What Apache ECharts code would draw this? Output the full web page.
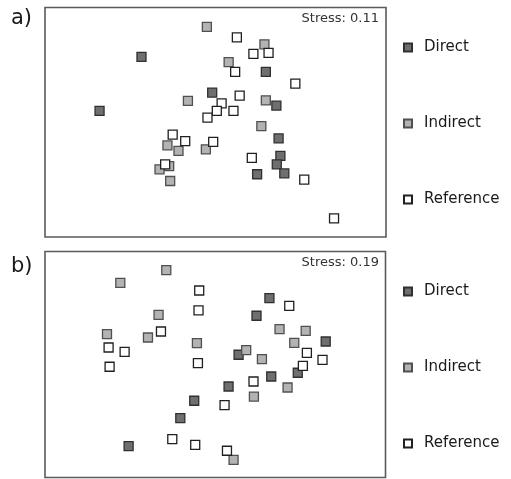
<!DOCTYPE html>
<html>
<head>
<meta charset="utf-8">
<script src="https://cdn.jsdelivr.net/npm/echarts@6/dist/echarts.min.js"></script>
<style>
html,body{margin:0;padding:0;background:#fff;}
#c{width:511px;height:479px;}
</style>
</head>
<body>
<div id="c"></div>
<script>
// NMDS ordination scores (axis 1, axis 2)
const groups = ['Direct', 'Indirect', 'Reference'];

// Panel a) Stress 0.11
const aDirect = [[-0.738,0.655],[-0.033,0.297],[-1.156,0.115],[0.502,0.505],[0.607,0.167],
  [0.629,-0.162],[0.647,-0.336],[0.611,-0.422],[0.686,-0.512],[0.415,-0.521]];
const aIndirect = [[-0.086,0.956],[0.488,0.781],[0.131,0.602],[-0.275,0.215],[0.502,0.220],
  [0.457,-0.039],[-0.479,-0.232],[-0.369,-0.287],[-0.096,-0.272],[-0.462,-0.439],
  [-0.558,-0.472],[-0.452,-0.589]];
const aReference = [[0.213,0.850],[0.378,0.685],[0.529,0.695],[0.196,0.505],[0.796,0.387],
  [0.241,0.267],[0.061,0.189],[0.013,0.115],[0.179,0.115],[-0.080,0.047],
  [-0.427,-0.124],[-0.302,-0.189],[-0.023,-0.196],[-0.502,-0.422],[0.362,-0.357],
  [0.885,-0.576],[1.182,-0.963]];

// Panel b) Stress 0.19
const bDirect = [[0.541,0.676],[0.412,0.496],[1.103,0.234],[0.233,0.099],[0.824,-0.084],
  [0.559,-0.122],[0.133,-0.224],[-0.210,-0.369],[-0.349,-0.545],[-0.865,-0.830]];
const bIndirect = [[-0.489,0.961],[-0.948,0.831],[-0.566,0.506],[-1.081,0.309],[-0.672,0.275],
  [-0.183,0.218],[0.642,0.360],[0.903,0.343],[0.789,0.221],[0.309,0.147],
  [0.466,0.055],[0.722,-0.234],[0.386,-0.326],[0.183,-0.970]];
const bReference = [[-0.160,0.753],[-0.167,0.550],[0.739,0.597],[-0.542,0.336],[-1.065,0.173],
  [-0.905,0.129],[-1.055,-0.023],[-0.173,0.014],[0.915,0.119],[1.071,0.048],
  [0.875,-0.013],[0.382,-0.173],[0.093,-0.413],[-0.429,-0.759],[-0.200,-0.817],
  [0.117,-0.878]];

const panelLabels = ['a)', 'b)'];
const stressLabels = ['Stress: 0.11', 'Stress: 0.19'];

const styles = {
  Direct:    {color:'#6f6f6f', borderColor:'#303030'},
  Indirect:  {color:'#b3b3b3', borderColor:'#505050'},
  Reference: {color:'#ffffff', borderColor:'#202020'}
};

const panelData = [[aDirect, aIndirect, aReference],[bDirect, bIndirect, bReference]];
const grids = [
  {left:45, top:7.5, width:341, height:229.5},
  {left:45, top:251.5, width:340.5, height:226}
];

const series = [];
panelData.forEach((sets, p) => {
  sets.forEach((d, g) => {
    const name = groups[g];
    series.push({
      type:'scatter', name:name, xAxisIndex:p, yAxisIndex:p,
      data:d, symbol:'rect', symbolSize:9,
      itemStyle:{color:styles[name].color, borderColor:styles[name].borderColor, borderWidth:1.3, opacity:1},
      emphasis:{disabled:true}, animation:false
    });
  });
});

const axisCommon = {show:false, splitLine:{show:false}};
const option = {
  backgroundColor:'#ffffff',
  animation:false,
  grid: grids.map(g => Object.assign({show:true, borderColor:'#5a5a5a', borderWidth:1.6, backgroundColor:'transparent', containLabel:false}, g)),
  xAxis: [0,1].map(i => Object.assign({type:'value', gridIndex:i, min:-1.7, max:1.7}, axisCommon)),
  yAxis: [0,1].map(i => Object.assign({type:'value', gridIndex:i, min:-1.15, max:1.15}, axisCommon)),
  legend: [35, 279].map(t => ({
    orient:'vertical', left:398, top:t, itemGap:61, itemWidth:8, itemHeight:8,
    icon:'rect', selectedMode:false, data:groups,
    textStyle:{fontFamily:'DejaVu Sans', fontSize:15, color:'#1a1a1a', padding:[0,0,0,7]}
  })),
  graphic: [
    {type:'text', left:11, top:8, style:{text:panelLabels[0], font:'21px "DejaVu Sans"', fill:'#1a1a1a'}},
    {type:'text', left:11, top:256, style:{text:panelLabels[1], font:'21px "DejaVu Sans"', fill:'#1a1a1a'}},
    {type:'text', right:132, top:12, style:{text:stressLabels[0], font:'13px "DejaVu Sans"', fill:'#333'}},
    {type:'text', right:132, top:256, style:{text:stressLabels[1], font:'13px "DejaVu Sans"', fill:'#333'}}
  ],
  series: series
};
const chart = echarts.init(document.getElementById('c'), null, {renderer:'canvas'});
chart.setOption(option);
</script>
</body>
</html>
